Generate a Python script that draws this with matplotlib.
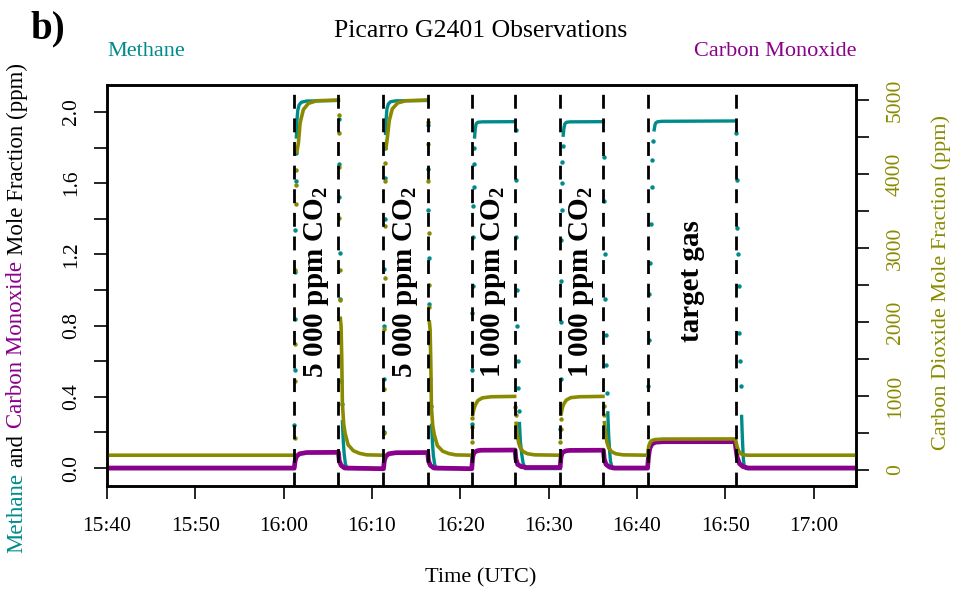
import numpy as np
import pandas as pd
import matplotlib
matplotlib.use('Agg')
import matplotlib.pyplot as plt
import matplotlib.dates as mdates
import matplotlib.transforms as mtransforms

plt.rcParams['font.family'] = 'Liberation Serif'
plt.rcParams['mathtext.fontset'] = 'custom'
plt.rcParams['mathtext.rm'] = 'Liberation Serif'
plt.rcParams['mathtext.bf'] = 'Liberation Serif:bold'

teal = '#008b8b'
purple = '#8b008b'
olive = '#8a8a00'

# times are minutes after 15:40 UTC, None breaks the trace
start = pd.Timestamp('2000-01-01 15:40')
switch_min = [21.2, 26.2, 31.3, 36.3, 41.3, 46.2, 51.3, 56.2, 61.2, 71.2]
gas_labels = ['5 000 ppm $\\mathbf{CO_2}$', '5 000 ppm $\\mathbf{CO_2}$',
              '1 000 ppm $\\mathbf{CO_2}$', '1 000 ppm $\\mathbf{CO_2}$', 'target gas']

# methane (ppm), left axis
ch4_trace = [(0, -0.003), (21.2, -0.003), None,
             (21.44, 1.86), (21.5, 1.95), (21.6, 2.01), (21.75, 2.04), (22.0, 2.055), (22.6, 2.062), (26.2, 2.065), None,
             (26.65, 0.26), (26.75, 0.15), (26.85, 0.08), (27.0, 0.02), (27.2, -0.003), (31.3, -0.003), None,
             (31.54, 1.88), (31.6, 1.96), (31.7, 2.02), (31.85, 2.045), (32.1, 2.058), (32.7, 2.063), (36.25, 2.065), None,
             (36.75, 0.24), (36.85, 0.14), (36.95, 0.07), (37.1, 0.02), (37.3, -0.003), (41.3, -0.003), None,
             (41.62, 1.86), (41.7, 1.91), (41.8, 1.935), (42.0, 1.943), (42.5, 1.945), (46.2, 1.946), None,
             (46.7, 0.25), (46.8, 0.15), (46.95, 0.08), (47.1, 0.03), (47.35, -0.003), (51.3, -0.003), None,
             (51.65, 1.87), (51.75, 1.915), (51.85, 1.935), (52.05, 1.943), (52.5, 1.945), (56.2, 1.946), None,
             (56.7, 0.31), (56.8, 0.18), (56.9, 0.10), (57.0, 0.04), (57.2, -0.003), (61.2, -0.003), None,
             (61.95, 1.9), (62.05, 1.93), (62.15, 1.94), (62.3, 1.945), (62.8, 1.948), (71.15, 1.95), None,
             (71.85, 0.29), (71.92, 0.19), (71.98, 0.12), (72.05, 0.05), (72.15, 0.01), (72.35, -0.003), (84.8, -0.003)]
ch4_dots = [(21.22, 0.24), (21.25, 0.55), (21.28, 0.84), (21.31, 1.10), (21.34, 1.34), (21.37, 1.61), (21.4, 1.77),
            (26.23, 1.96), (26.26, 1.71), (26.29, 1.52), (26.33, 1.21), (26.37, 0.95), (26.42, 0.76), (26.5, 0.49), (26.58, 0.36),
            (31.32, 0.2), (31.35, 0.5), (31.38, 0.8), (31.41, 1.12), (31.44, 1.4), (31.47, 1.63), (31.5, 1.8),
            (36.32, 1.93), (36.35, 1.68), (36.38, 1.45), (36.42, 1.18), (36.46, 0.92), (36.51, 0.7), (36.58, 0.5), (36.66, 0.35),
            (41.32, 0.25), (41.35, 0.55), (41.38, 0.87), (41.41, 1.02), (41.44, 1.30), (41.47, 1.47), (41.5, 1.58), (41.54, 1.71), (41.58, 1.80),
            (46.25, 1.90), (46.29, 1.62), (46.33, 1.30), (46.37, 1.00), (46.42, 0.80), (46.48, 0.60), (46.55, 0.45), (46.62, 0.32),
            (51.32, 0.22), (51.35, 0.5), (51.38, 0.82), (51.41, 1.05), (51.44, 1.28), (51.47, 1.45), (51.51, 1.6), (51.55, 1.72), (51.59, 1.81),
            (56.24, 1.75), (56.28, 1.5), (56.33, 1.2), (56.38, 0.95), (56.45, 0.75), (56.52, 0.58), (56.6, 0.42),
            (61.25, 0.46), (61.32, 0.72), (61.4, 0.98), (61.48, 1.15), (61.56, 1.37), (61.65, 1.58), (61.75, 1.73), (61.85, 1.84),
            (71.2, 1.88), (71.28, 1.62), (71.36, 1.35), (71.44, 1.2), (71.52, 1.02), (71.6, 0.76), (71.68, 0.6), (71.76, 0.46)]

# carbon monoxide (ppm), left axis
co_trace = [(0, 0.0), (21.2, 0.0), (21.3, 0.04), (21.45, 0.065), (21.8, 0.08), (22.6, 0.087), (26.2, 0.088),
            (26.3, 0.04), (26.5, 0.015), (26.9, 0.0), (31.3, -0.004), (31.4, 0.04), (31.55, 0.065), (31.9, 0.08),
            (32.7, 0.086), (36.3, 0.087), (36.4, 0.04), (36.6, 0.015), (37.0, 0.0), (41.3, -0.004), (41.4, 0.06),
            (41.55, 0.088), (42.0, 0.098), (42.4, 0.1), (46.2, 0.101), (46.3, 0.05), (46.5, 0.02), (46.9, 0.008),
            (47.5, 0.003), (51.3, 0.003), (51.4, 0.06), (51.55, 0.088), (52.0, 0.097), (52.4, 0.099), (56.2, 0.1),
            (56.3, 0.05), (56.5, 0.02), (56.9, 0.005), (57.5, 0.0), (61.2, 0.0), (61.3, 0.06), (61.45, 0.11),
            (61.7, 0.135), (62.1, 0.145), (63.0, 0.148), (71.1, 0.148), (71.2, 0.11), (71.35, 0.06), (71.6, 0.025),
            (72.0, 0.008), (72.6, 0.0), (84.8, 0.0)]

# carbon dioxide (ppm), right axis
co2_trace = [(0, 200), (21.2, 200), None,
             (21.5, 4300), (21.67, 4420), (21.86, 4690), (22.23, 4870), (22.8, 4955), (23.75, 4990), (26.2, 5000), None,
             (26.42, 2050), (26.5, 1950), (26.58, 1500), (26.65, 900), (26.8, 620), (26.95, 500), (27.3, 340),
             (27.9, 260), (28.6, 225), (29.4, 205), (31.3, 200), None,
             (31.58, 4350), (31.75, 4500), (31.95, 4720), (32.3, 4880), (32.9, 4960), (33.8, 4990), (36.3, 5000), None,
             (36.5, 2000), (36.58, 1900), (36.66, 1450), (36.73, 850), (36.88, 600), (37.05, 480), (37.4, 330),
             (38.0, 255), (38.7, 222), (39.5, 204), (41.3, 200), None,
             (41.42, 750), (41.55, 830), (41.7, 880), (42.0, 940), (42.5, 975), (43.5, 990), (46.15, 995), None,
             (46.32, 630), (46.45, 480), (46.6, 370), (46.8, 300), (47.1, 250), (47.6, 220), (48.4, 205), (51.3, 200), None,
             (51.42, 760), (51.55, 840), (51.7, 890), (52.0, 945), (52.5, 978), (53.5, 990), (56.15, 995), None,
             (56.32, 640), (56.45, 490), (56.6, 375), (56.8, 300), (57.1, 250), (57.6, 220), (58.4, 205), (61.2, 200),
             (61.25, 260), (61.35, 330), (61.5, 375), (61.7, 400), (62.1, 412), (63.0, 418), (71.1, 420),
             (71.2, 390), (71.35, 310), (71.55, 250), (71.8, 218), (72.1, 205), (72.6, 200), (84.8, 200)]
co2_dots = [(21.24, 430), (21.27, 1200), (21.3, 1700), (21.33, 2700), (21.37, 3600), (21.4, 3850), (21.44, 4050),
            (26.22, 4800), (26.25, 4550), (26.28, 4100), (26.31, 3400), (26.34, 2700), (26.38, 2300),
            (31.34, 500), (31.37, 1100), (31.4, 1900), (31.43, 2600), (31.46, 3300), (31.5, 3900), (31.53, 4150),
            (36.32, 4700), (36.35, 4400), (36.38, 3900), (36.41, 3200), (36.44, 2500), (36.47, 2200),
            (41.32, 380), (41.35, 585), (41.38, 700),
            (46.22, 850), (46.26, 745),
            (51.32, 380), (51.35, 560), (51.38, 690),
            (56.22, 860), (56.26, 750)]

left_ticks = [0.0, 0.2, 0.4, 0.6, 0.8, 1.0, 1.2, 1.4, 1.6, 1.8, 2.0]
left_labels = ['0.0', '', '0.4', '', '0.8', '', '1.2', '', '1.6', '', '2.0']
right_ticks = [0, 500, 1000, 1500, 2000, 2500, 3000, 3500, 4000, 4500, 5000]
right_labels = ['0', '', '1000', '', '2000', '', '3000', '', '4000', '', '5000']

t0 = mdates.date2num(start)


def to_xy(pairs):
    t = np.array([np.nan if p is None else p[0] for p in pairs], dtype=float)
    v = np.array([np.nan if p is None else p[1] for p in pairs], dtype=float)
    return t0 + t / 1440.0, v


W, H = 961, 594
fs = 15.5
fig = plt.figure(figsize=(W / 100, H / 100), dpi=100)
ax = fig.add_axes([107 / W, 1 - 486 / H, (856 - 107) / W, (486 - 85) / H])
ax2 = ax.twinx()

x, y = to_xy(ch4_trace)
ax.plot(x, y, color=teal, lw=2.4)
x, y = to_xy(ch4_dots)
ax.plot(x, y, 'o', color=teal, ms=3.2, mec='none')
x, y = to_xy(co_trace)
ax.plot(x, y, color=purple, lw=3.4)

x, y = to_xy(co2_trace)
ax2.plot(x, y, color=olive, lw=2.6)
x, y = to_xy(co2_dots)
ax2.plot(x, y, 'o', color=olive, ms=3.2, mec='none')

for s in switch_min:
    ax2.axvline(t0 + s / 1440.0, color='black', lw=2, dashes=(5, 3.5), zorder=5)

trans = mtransforms.blended_transform_factory(ax2.transData, ax2.transAxes)
for i, lab in enumerate(gas_labels):
    mid = t0 + (switch_min[2 * i] + switch_min[2 * i + 1]) / 2 / 1440.0
    ax2.text(mid, 0.51, lab, transform=trans, rotation=90, ha='center', va='center',
             fontsize=21, fontweight='bold', zorder=6)

ax.set_xlim(t0, t0 + 84.8 / 1440.0)
ax.set_ylim(-0.101, 2.152)
ax2.set_ylim(-216, 5203)

ax.xaxis.set_major_locator(mdates.MinuteLocator(byminute=range(0, 60, 10)))
ax.xaxis.set_major_formatter(mdates.DateFormatter('%H:%M'))

ax.set_yticks(left_ticks)
ax.set_yticklabels(left_labels, rotation=90, va='center', ha='right')
ax2.set_yticks(right_ticks)
ax2.set_yticklabels(right_labels, rotation=90, va='center', ha='left', color=olive)

ax.tick_params(axis='x', direction='out', length=9.5, width=1.2, labelsize=fs, pad=13)
ax.tick_params(axis='y', direction='out', length=9.5, width=1.2, labelsize=fs, pad=9)
ax2.tick_params(axis='y', direction='out', length=9.5, width=1.2, labelsize=fs, pad=12)
for a in (ax, ax2):
    for sp in a.spines.values():
        sp.set_linewidth(1.8)

fig.text(30 / W, 1 - 29 / H, 'b)', fontsize=28, fontweight='bold', ha='left', va='center')
fig.text(481 / W, 1 - 31 / H, 'Picarro G2401 Observations', fontsize=18.5, ha='center', va='center')
fig.text(107 / W, 1 - 52 / H, 'Methane', color=teal, fontsize=fs + 0.5, ha='left', va='center')
fig.text(857 / W, 1 - 52 / H, 'Carbon Monoxide', color=purple, fontsize=fs + 0.5, ha='right', va='center')
fig.text(481 / W, 1 - 578 / H, 'Time (UTC)', fontsize=fs + 0.5, ha='center', va='center')
fig.text(941 / W, 1 - 283 / H, 'Carbon Dioxide Mole Fraction (ppm)', color=olive, fontsize=fs + 0.5,
         rotation=90, ha='center', va='center')

# left label in several colours, stacked bottom to top
pieces = [('Methane', teal), ('and', 'black'), ('Carbon Monoxide', purple), ('Mole Fraction (ppm)', 'black')]
lab_fs = 16.5
fig.canvas.draw()
renderer = fig.canvas.get_renderer()


def text_width(s):
    tmp = fig.text(0, 0, s, fontsize=lab_fs)
    w = tmp.get_window_extent(renderer).width
    tmp.remove()
    return w


space = text_width('x x') - text_width('xx')
lengths = [text_width(s) for s, c in pieces]
total = sum(lengths) + space * (len(pieces) - 1)
ypos = (H - 308) - total / 2
for (s, c), L in zip(pieces, lengths):
    fig.text(17 / W, ypos / H, s, color=c, fontsize=lab_fs, rotation=90,
             rotation_mode='anchor', ha='left', va='center')
    ypos += L + space

fig.savefig('out.png', dpi=100)
